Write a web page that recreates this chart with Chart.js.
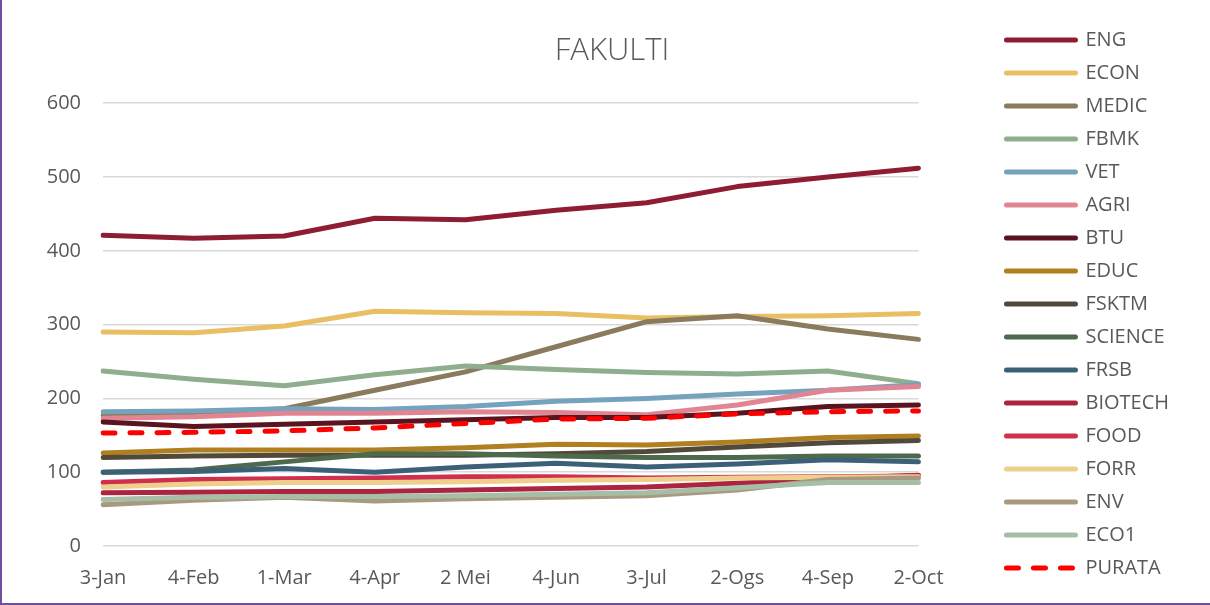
<!DOCTYPE html>
<html>
<head>
<meta charset="utf-8">
<title>FAKULTI</title>
<script src="https://cdn.jsdelivr.net/npm/chart.js@4.4.1/dist/chart.umd.min.js"></script>
<style>
    html, body { margin: 0; padding: 0; background: #ffffff; }
    #wrap { position: relative; width: 1210px; height: 605px; }
    #frame {
        position: absolute; left: 0; top: 0; width: 1208px; height: 603px;
        border-left: 2px solid #6f4fa0; border-bottom: 2px solid #6f4fa0;
        pointer-events: none;
    }
</style>
</head>
<body>
<div id="wrap">
    <canvas id="fakulti-chart" width="1210" height="605"></canvas>
    <div id="frame"></div>
</div>
<script>
// ==================================================
// DATOS
// ==================================================
const labels = ['3-Jan', '4-Feb', '1-Mar', '4-Apr', '2 Mei', '4-Jun', '3-Jul', '2-Ogs', '4-Sep', '2-Oct'];
const yTicks = [0, 100, 200, 300, 400, 500, 600];

const ENG     = [421, 417, 420, 444, 442, 455, 465, 487, 500, 512];
const ECON    = [290, 289, 298, 318, 316, 315, 309, 311, 312, 315];
const MEDIC   = [177, 180, 186, 211, 236, 270, 304, 312, 294, 280];
const FBMK    = [237, 226, 217, 232, 244, 239, 235, 233, 237, 220];
const VET     = [182, 183, 186, 185, 189, 196, 200, 206, 211, 219];
const AGRI    = [173, 175, 180, 180, 182, 181, 178, 191, 211, 216];
const BTU     = [168, 162, 165, 168, 171, 174, 174, 180, 189, 191];
const EDUC    = [126, 130, 130, 130, 133, 138, 137, 141, 147, 149];
const FSKTM   = [120, 122, 123, 123, 123, 125, 128, 134, 140, 143];
const SCIENCE = [100, 103, 114, 125, 125, 122, 120, 120, 122, 122];
const FRSB    = [100, 101, 105, 100, 107, 112, 107, 111, 117, 114];
const BIOTECH = [72, 73, 74, 74, 76, 78, 80, 85, 91, 96];
const FOOD    = [86, 90, 91, 92, 94, 94, 92, 93, 94, 95];
const FORR    = [80, 84, 86, 86, 87, 89, 90, 92, 93, 94];
const ENV     = [56, 62, 66, 61, 64, 66, 68, 76, 90, 92];
const ECO1    = [63, 66, 67, 67, 68, 70, 72, 79, 86, 86];
const PURATA  = [153, 154, 156, 160, 166, 172, 173, 179, 182, 183];

const series = [
    ['ENG', ENG, '#8e1c33'],
    ['ECON', ECON, '#e8bf63'],
    ['MEDIC', MEDIC, '#8a7b5e'],
    ['FBMK', FBMK, '#8fae8d'],
    ['VET', VET, '#75a3bd'],
    ['AGRI', AGRI, '#e18593'],
    ['BTU', BTU, '#5a1420'],
    ['EDUC', EDUC, '#b07f1f'],
    ['FSKTM', FSKTM, '#514a3b'],
    ['SCIENCE', SCIENCE, '#4e6a4c'],
    ['FRSB', FRSB, '#3d6079'],
    ['BIOTECH', BIOTECH, '#ac2540'],
    ['FOOD', FOOD, '#cf304e'],
    ['FORR', FORR, '#eecf8b'],
    ['ENV', ENV, '#a89a80'],
    ['ECO1', ECO1, '#a6bea6'],
    ['PURATA', PURATA, '#ff0000']
];

const textColor = '#595959';
const fontFamily = '"Open Sans", "Noto Sans", sans-serif';
const lineWidth = 5;

// ==================================================
// DATASETS (las series posteriores se dibujan encima, como en Excel)
// ==================================================
const datasets = series.map(function(s, i) {
    return {
        label: s[0],
        data: s[1],
        borderColor: s[2],
        backgroundColor: s[2],
        borderWidth: lineWidth,
        borderCapStyle: 'round',
        borderJoinStyle: 'round',
        borderDash: s[0] === 'PURATA' ? [12, 15] : [],
        pointRadius: 0,
        pointHoverRadius: 0,
        tension: 0,
        fill: false,
        order: -i
    };
});

// leyenda: misma línea (y guiones) que la serie
function legendLabels(chart) {
    const items = Chart.defaults.plugins.legend.labels.generateLabels(chart);
    items.forEach(function(item) {
        const ds = chart.data.datasets[item.datasetIndex];
        item.lineWidth = lineWidth;
        item.lineCap = 'round';
        item.strokeStyle = ds.borderColor;
        item.lineDash = ds.borderDash;
    });
    return items;
}

// ==================================================
// GRÁFICO
// ==================================================
const ctx = document.getElementById('fakulti-chart').getContext('2d');

new Chart(ctx, {
    type: 'line',
    data: { labels: labels, datasets: datasets },
    options: {
        responsive: false,
        animation: false,
        layout: { padding: { left: 45, right: 31, top: 3, bottom: 0 } },
        plugins: {
            title: {
                display: true,
                text: 'FAKULTI',
                color: textColor,
                font: { family: fontFamily, size: 31, weight: '300' },
                padding: { top: 30, bottom: 33 }
            },
            legend: {
                position: 'right',
                reverse: true,
                labels: {
                    usePointStyle: true,
                    pointStyle: 'line',
                    pointStyleWidth: 69,
                    padding: 13,
                    color: textColor,
                    font: { family: fontFamily, size: 20 },
                    generateLabels: legendLabels
                }
            },
            tooltip: { enabled: false }
        },
        scales: {
            x: {
                grid: { display: false, drawTicks: false },
                border: { display: false },
                ticks: {
                    color: textColor,
                    padding: 20,
                    maxRotation: 0,
                    autoSkip: false,
                    font: { family: fontFamily, size: 20 }
                },
                afterFit: function(scale) { scale.height = 59; }
            },
            y: {
                min: yTicks[0],
                max: yTicks[yTicks.length - 1],
                afterBuildTicks: function(scale) {
                    scale.ticks = yTicks.map(function(v) { return { value: v }; });
                },
                grid: { color: '#d9d9d9', lineWidth: 1.5, drawTicks: false },
                border: { display: false },
                ticks: {
                    color: textColor,
                    padding: 22,
                    font: { family: fontFamily, size: 20 }
                },
                afterFit: function(scale) { scale.width = 58; }
            },
            // eje vacío a la derecha: solo deja el hueco entre el gráfico y la leyenda
            hueco: {
                type: 'linear',
                position: 'right',
                display: true,
                grid: { display: false, drawTicks: false },
                border: { display: false },
                ticks: { display: false },
                afterFit: function(scale) { scale.width = 75; }
            }
        }
    }
});
</script>
</body>
</html>
